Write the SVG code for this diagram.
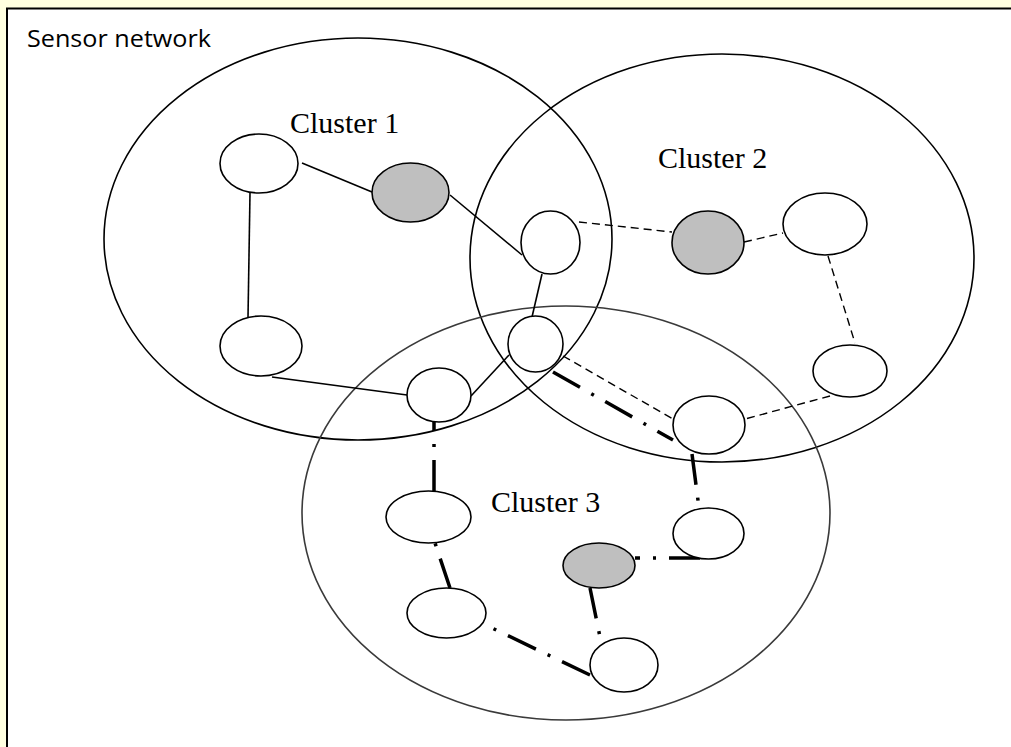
<svg xmlns="http://www.w3.org/2000/svg" width="1011" height="747" viewBox="0 0 1011 747">
<style>
.cl{fill:none;stroke:#000;stroke-width:1.6}
.cl3{fill:none;stroke:#3a3a3a;stroke-width:1.6}
.n{fill:#fff;stroke:#000;stroke-width:1.6}
.h{fill:#bfbfbf;stroke:#000;stroke-width:1.6}
.s{stroke:#000;stroke-width:1.6;fill:none}
.d{stroke:#000;stroke-width:1.4;fill:none;stroke-dasharray:8 5}
.dd{stroke:#000;stroke-width:3.5;fill:none;stroke-dasharray:31 13 3 13}
.lab{font-family:"Liberation Serif",serif;font-size:30px;fill:#000}
.title{font-family:"Open Sans","Liberation Sans",sans-serif;font-size:23px;fill:#000}
</style>
<rect x="0" y="0" width="1011" height="747" fill="#ffffe0"/>
<rect x="7" y="8.5" width="1020" height="760" fill="#fff" stroke="#000" stroke-width="2"/>
<text class="title" x="27" y="47" textLength="184" lengthAdjust="spacingAndGlyphs">Sensor network</text>
<g id="clusters">
<ellipse id="cluster1" class="cl" cx="358" cy="239" rx="254" ry="201"/>
<ellipse id="cluster2" class="cl" cx="722" cy="258" rx="252" ry="204"/>
<ellipse id="cluster3" class="cl3" cx="566" cy="513" rx="264" ry="207"/>
</g>
<g id="labels">
<text class="lab" x="290" y="133">Cluster 1</text>
<text class="lab" x="658" y="168">Cluster 2</text>
<text class="lab" x="491" y="512">Cluster 3</text>
</g>
<g id="connectors">
<line class="s" x1="302" y1="163" x2="372" y2="192"/>
<line class="s" x1="450" y1="195" x2="522" y2="255"/>
<line class="s" x1="250" y1="193" x2="248" y2="318"/>
<line class="s" x1="542" y1="274" x2="532" y2="317"/>
<line class="s" x1="272" y1="377" x2="407" y2="395"/>
<line class="s" x1="471" y1="396" x2="509" y2="355"/>
<line class="d" x1="579" y1="222" x2="672" y2="232"/>
<line class="d" x1="744" y1="242" x2="783" y2="233"/>
<line class="d" x1="828" y1="256" x2="855" y2="343"/>
<line class="d" x1="830" y1="396" x2="745" y2="419"/>
<line class="d" x1="563" y1="356" x2="673" y2="419"/>
<line class="dd" x1="553" y1="372" x2="673" y2="440"/>
<line class="dd" x1="692" y1="454" x2="699" y2="508"/>
<line class="dd" x1="700" y1="558" x2="635" y2="558"/>
<line class="dd" x1="590" y1="588" x2="600" y2="637"/>
<line class="dd" x1="590" y1="675" x2="492" y2="628"/>
<line class="dd" x1="450" y1="588" x2="435" y2="543"/>
<line class="dd" x1="434" y1="491" x2="434" y2="421"/>
</g>
<g id="node1"><ellipse class="n" cx="259" cy="163.5" rx="39" ry="29.5"/></g>
<g id="node2"><ellipse class="h" cx="410.5" cy="192.5" rx="38.5" ry="29.5"/></g>
<g id="node3"><ellipse class="n" cx="550.5" cy="242.5" rx="29.5" ry="31.5"/></g>
<g id="node4"><ellipse class="h" cx="708" cy="242.5" rx="36" ry="31.5"/></g>
<g id="node5"><ellipse class="n" cx="825" cy="224" rx="42" ry="31"/></g>
<g id="node6"><ellipse class="n" cx="850" cy="371" rx="37" ry="26"/></g>
<g id="node7"><ellipse class="n" cx="535.5" cy="344" rx="27.5" ry="28"/></g>
<g id="node8"><ellipse class="n" cx="709" cy="425" rx="36" ry="29"/></g>
<g id="node9"><ellipse class="n" cx="261" cy="346" rx="41" ry="30"/></g>
<g id="node10"><ellipse class="n" cx="439" cy="395" rx="32" ry="27"/></g>
<g id="node11"><ellipse class="n" cx="428.5" cy="517" rx="42.5" ry="26"/></g>
<g id="node12"><ellipse class="n" cx="708.5" cy="533.5" rx="35.5" ry="25.5"/></g>
<g id="node13"><ellipse class="h" cx="599" cy="565.5" rx="36" ry="22.5"/></g>
<g id="node14"><ellipse class="n" cx="446.5" cy="613" rx="39.5" ry="25"/></g>
<g id="node15"><ellipse class="n" cx="624" cy="665" rx="34" ry="27"/></g>
</svg>
